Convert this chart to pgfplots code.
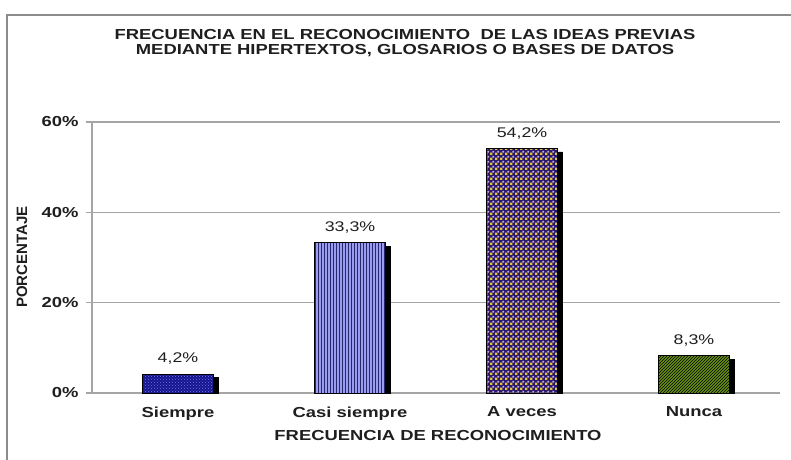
\documentclass[border=0pt]{standalone}
\usepackage{fontspec}
\setmainfont{Liberation Sans}
\newfontfamily\wide{Liberation Sans}[FakeStretch=1.27]
\newfontfamily\semi{Liberation Sans}[FakeStretch=1.0]
\usepackage{pgfplots}
\pgfplotsset{compat=1.18}
\usetikzlibrary{patterns}

\definecolor{navy}{RGB}{20,20,140}
\definecolor{navydots}{RGB}{120,120,235}
\definecolor{lavender}{RGB}{155,155,240}
\definecolor{stripe}{RGB}{40,40,110}
\definecolor{plaidbg}{RGB}{40,25,105}
\definecolor{gold}{RGB}{230,195,60}
\definecolor{lilac}{RGB}{200,170,235}
\definecolor{olive}{RGB}{105,145,20}
\definecolor{gridgrey}{RGB}{165,165,165}
\definecolor{framegrey}{RGB}{140,140,140}
\definecolor{txt}{RGB}{30,30,30}

% small square dots, two offsets, for the plaid of "A veces"
\pgfdeclarepatternformonly{golddots}{\pgfpointorigin}{\pgfpoint{5pt}{5pt}}{\pgfpoint{5pt}{5pt}}{
  \pgfpathrectangle{\pgfpoint{0.2pt}{0.2pt}}{\pgfpoint{2.6pt}{2.6pt}}\pgfusepath{fill}}
\pgfdeclarepatternformonly{lilacdots}{\pgfpointorigin}{\pgfpoint{5pt}{5pt}}{\pgfpoint{5pt}{5pt}}{
  \pgfpathrectangle{\pgfpoint{2.8pt}{2.8pt}}{\pgfpoint{2pt}{2pt}}\pgfusepath{fill}}

\newcommand{\lab}{\wide\bfseries\fontsize{14.5}{16}\selectfont}

\begin{document}
\begin{tikzpicture}
\useasboundingbox (0,0) rectangle (791pt,459pt);

% frame round the chart
\draw[framegrey, line width=1.6pt] (7pt,-5pt) -- (7pt,444pt) -- (800pt,444pt);

\begin{axis}[
    at={(92pt,66pt)}, anchor=south west,
    scale only axis,
    width=688pt, height=271pt,
    xmin=-0.5, xmax=3.5,
    ymin=0, ymax=60,
    axis lines*=left,
    axis line style={gridgrey, line width=1.3pt, -},
    ymajorgrids,
    grid style={gridgrey, line width=1.3pt},
    xtick={0,1,2,3},
    xticklabels={Siempre, Casi siempre, A veces, Nunca},
    xtick style={draw=none},
    ytick={0,20,40,60},
    ytick style={gridgrey, line width=1.3pt},
    tick align=outside,
    major tick length=6pt,
    /pgf/number format/assume math mode=true,
    yticklabel={\pgfmathprintnumber{\tick}\%},
    ticklabel style={font=\lab, text=txt},
    xticklabel style={yshift=-4pt},
    yticklabel style={xshift=-4pt},
    bar width=0.41,
    every axis plot/.append style={ybar, bar shift=0pt, draw=black, line width=0.5pt},
    nodes near coords={\pgfmathprintnumber{\pgfplotspointmeta}\%},
    every node near coord/.append style={
        font=\wide\fontsize{14}{16}\selectfont, text=txt,
        anchor=south, inner sep=0pt, yshift=9pt,
        /pgf/number format/fixed,
        /pgf/number format/fixed zerofill,
        /pgf/number format/precision=1,
        /pgf/number format/use comma,
        /pgf/number format/assume math mode=true},
]
% shadows
\addplot[fill=black, draw=black, bar shift=5pt, nodes near coords={}] coordinates {(0,3.4) (1,32.5) (2,53.4) (3,7.5)};
% bars
\addplot[fill=navy, postaction={pattern=crosshatch dots, pattern color=navydots}] coordinates {(0,4.2)};
\addplot[fill=lavender, postaction={pattern=vertical lines, pattern color=stripe}] coordinates {(1,33.3)};
\addplot[fill=plaidbg, postaction={pattern=golddots, pattern color=gold},
         postaction={pattern=lilacdots, pattern color=lilac}] coordinates {(2,54.2)};
\addplot[fill=olive, postaction={pattern=north east lines, pattern color=black}] coordinates {(3,8.3)};
\end{axis}

\node[font=\lab, text=txt, align=center] at (405pt,416pt)
    {FRECUENCIA EN EL RECONOCIMIENTO\ \ DE LAS IDEAS PREVIAS\\[-1pt]
     MEDIANTE HIPERTEXTOS, GLOSARIOS O BASES DE DATOS};
\node[font=\lab, text=txt] at (438pt,23pt) {FRECUENCIA DE RECONOCIMIENTO};
\node[font=\semi\bfseries\fontsize{15}{17}\selectfont, text=txt, rotate=90] at (22pt,202pt) {PORCENTAJE};
\end{tikzpicture}
\end{document}
